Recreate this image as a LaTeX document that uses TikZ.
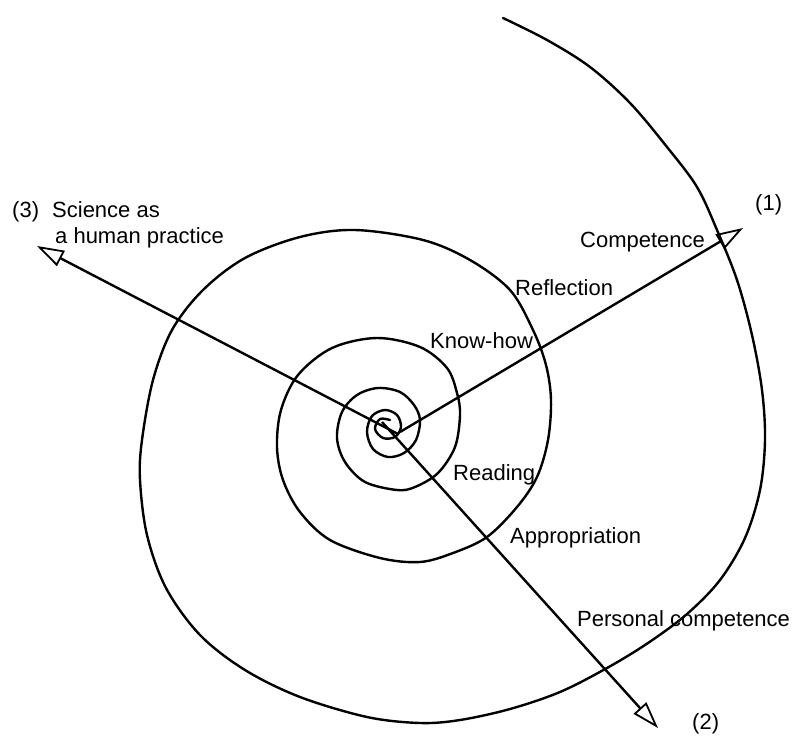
\documentclass[tikz,border=0pt]{standalone}
\usepackage{fontspec}
\setmainfont{Liberation Sans}
\usetikzlibrary{arrows.meta}
\begin{document}
\begin{tikzpicture}[x=1pt,y=-1pt,
  spiralline/.style={line width=2.4pt, line cap=round, line join=round},
  axisarrow/.style={line width=2.4pt, -{Triangle[open, length=27pt, width=17pt, line width=1.8pt]}},
  lbl/.style={inner sep=0pt, anchor=base west, font=\fontsize{22}{26}\selectfont}]
\useasboundingbox (0,0) rectangle (795,736);
\fill[white] (0,0) rectangle (795,736);
% spiral
\draw[spiralline] plot[smooth, tension=0.55] coordinates {
 (503,18) (547,40) (590,67) (630,103) (667,147) (697,187) (717,230) (737,280)
 (752,335) (762,390) (765,440) (760,490) (745,538) (720,580) (687,614) (648,643)
 (607,668) (560,692) (510,709) (460,720) (420,723) (367,717) (300,697) (245,670)
 (200,635) (166,588) (147,535) (140,480) (142,440) (153,380) (172,330) (203,290)
 (245,258) (300,237) (355,230) (423,240) (470,260) (510,290) (533,330) (546,365)
 (551,400) (548,440) (537,477) (517,507) (487,537) (453,553) (420,562) (380,558)
 (330,540) (300,512) (283,480) (277,447) (281,410) (298,375) (332,348) (377,338)
 (420,347) (447,368) (457,393) (460,415) (455,447) (438,473) (415,487) (397,490)
 (365,482) (345,462) (337,438) (342,412) (357,395) (378,388) (400,392) (414,405)
 (420,420) (416,440) (404,453) (388,457) (373,449) (367,432) (372,416) (385,410)
 (397,415) (401,427) (395,437) (383,438) (375,429) (380,419) (390,420)};
% axes
\coordinate (c1) at (400,432);
\coordinate (c2) at (382,422);
\coordinate (c3) at (398,434);
\coordinate (e1) at (743,228);
\coordinate (e2) at (658,728);
\coordinate (e3) at (37,246);
\draw[axisarrow] (c1) -- (e1);
\draw[axisarrow] (c2) -- (e2);
\draw[axisarrow] (c3) -- (e3);
% labels
\node[lbl] (n3) at (12,217) {(3)};
\node[lbl] (sci) at (52,217) {Science as};
\node[lbl] (hum) at (55,243) {a human practice};
\node[lbl] (n1) at (755,210) {(1)};
\node[lbl] (comp) at (580,247) {Competence};
\node[lbl] (refl) at (515,295) {Reflection};
\node[lbl] (know) at (430,348) {Know-how};
\node[lbl] (read) at (453,480) {Reading};
\node[lbl] (appr) at (510,543) {Appropriation};
\node[lbl] (pers) at (577,626) {Personal competence};
\node[lbl] (n2) at (692,729) {(2)};
\end{tikzpicture}
\end{document}
